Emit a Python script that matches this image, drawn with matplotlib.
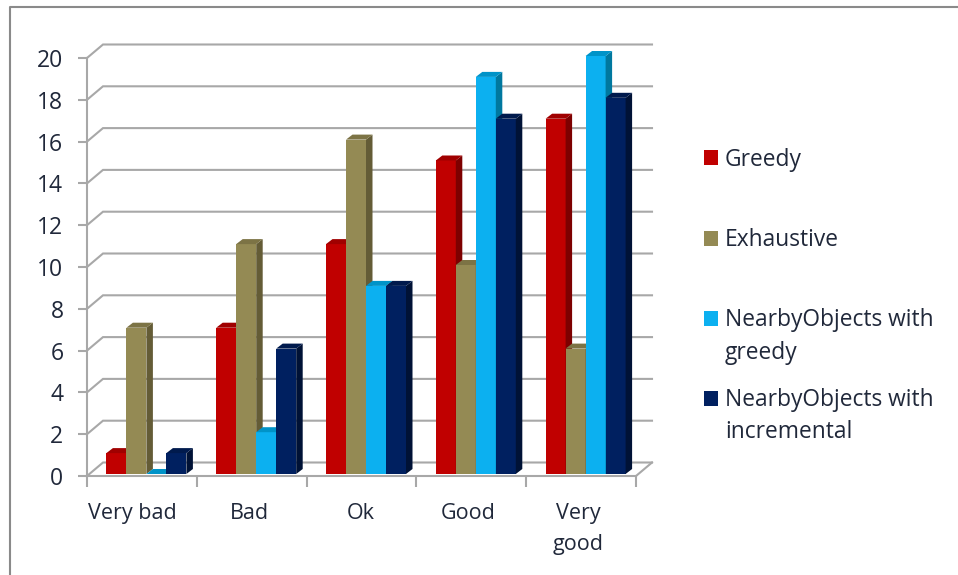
import matplotlib
matplotlib.use('Agg')
import matplotlib.pyplot as plt
from matplotlib.lines import Line2D
from matplotlib.patches import Polygon, Rectangle

categories = ['Very bad', 'Bad', 'Ok', 'Good', 'Very\ngood']
greedy = [1, 7, 11, 15, 17]
exhaustive = [7, 11, 16, 10, 6]
nearby_greedy = [0, 2, 9, 19, 20]
nearby_incremental = [1, 6, 9, 17, 18]

series_names = ['Greedy', 'Exhaustive', 'NearbyObjects with\ngreedy', 'NearbyObjects with\nincremental']
series_values = [greedy, exhaustive, nearby_greedy, nearby_incremental]
front_colors = ['#c00000', '#948a54', '#0cb0f0', '#002060']
side_colors = ['#7d0000', '#645c36', '#00789f', '#001236']
top_colors = ['#a00000', '#7c7345', '#0093c8', '#001a4d']

WIDTH, HEIGHT = 958, 575
FONT = 'Open Sans'
TEXT_COLOR = '#20283a'
GRID_COLOR = '#a8a8a8'

# pixels per data unit on each axis
X_SCALE = 549 / 5
Y_SCALE = 418 / 20

fig = plt.figure(figsize=(WIDTH / 100, HEIGHT / 100), dpi=100)
ax = fig.add_axes([87 / WIDTH, 1 - 476 / HEIGHT, 549 / WIDTH, 418 / HEIGHT])
ax.set_xlim(0, 5)
ax.set_ylim(0, 20)
ax.patch.set_visible(False)


def fig_xy(px, py):
    return px / WIDTH, 1 - py / HEIGHT


# wall depth
wall_x = 16 / X_SCALE
wall_y = 13.5 / Y_SCALE
for v in range(0, 21, 2):
    ax.plot([0, wall_x, 5 + wall_x], [v, v + wall_y, v + wall_y], color=GRID_COLOR,
            lw=1.5, clip_on=False, zorder=1, solid_joinstyle='miter')
ax.plot([5, 5 + wall_x], [0, wall_y], color=GRID_COLOR, lw=1.5, clip_on=False, zorder=1)

# 3D look: front face from ax.bar, then side and top faces from each bar
bar_w = 20 / X_SCALE
depth_x = 6.5 / X_SCALE
depth_y = 5 / Y_SCALE
shift_x = 4.5 / X_SCALE
shift_y = 2 / Y_SCALE
centers = [i + 0.5 for i in range(len(categories))]

for j, values in enumerate(series_values):
    xs = [c + shift_x + (j - 1.5) * bar_w for c in centers]
    bars = ax.bar(xs, values, width=bar_w, bottom=shift_y, color=front_colors[j],
                  linewidth=0, zorder=3, clip_on=False)
    for b in bars:
        x0, x1 = b.get_x(), b.get_x() + b.get_width()
        y0, y1 = b.get_y(), b.get_y() + b.get_height()
        ax.add_patch(Polygon([(x1, y0), (x1 + depth_x, y0 + depth_y), (x1 + depth_x, y1 + depth_y), (x1, y1)],
                             facecolor=side_colors[j], linewidth=0, zorder=3, clip_on=False))
        ax.add_patch(Polygon([(x0, y1), (x0 + depth_x, y1 + depth_y), (x1 + depth_x, y1 + depth_y), (x1, y1)],
                             facecolor=top_colors[j], linewidth=0, zorder=3, clip_on=False))

for name in ['top', 'right']:
    ax.spines[name].set_visible(False)
for name in ['left', 'bottom']:
    ax.spines[name].set_color(GRID_COLOR)
    ax.spines[name].set_linewidth(1.5)
    ax.spines[name].set_zorder(2)

ax.set_yticks(range(0, 21, 2))
ax.set_xticks(range(6))
ax.set_xticklabels([])
ax.tick_params(axis='y', length=6.5, width=1.5, color=GRID_COLOR, pad=10.5,
               labelsize=16.5, labelcolor=TEXT_COLOR)
ax.tick_params(axis='x', length=8, width=1.5, color=GRID_COLOR)
for label in ax.get_yticklabels():
    label.set_fontfamily(FONT)

# category labels sit a little off centre
label_nudge = [-10, -2, -1, -3, -3]
for c, name, nudge in zip(centers, categories, label_nudge):
    ax.annotate(name, xy=(c, 0), xytext=(nudge * 0.72, -19.5), textcoords='offset points',
                ha='center', va='top', fontsize=15.5, family=FONT, color=TEXT_COLOR,
                linespacing=1.65, annotation_clip=False)

# legend
legend_y = [157, 237.5, 317.5, 397]
square_y = [158, 238.5, 318.5, 398]
for name, color, y, sy in zip(series_names, front_colors, legend_y, square_y):
    x0, y0 = fig_xy(704, sy + 7.5)
    fig.add_artist(Rectangle((x0, y0), 14 / WIDTH, 15 / HEIGHT, facecolor=color, linewidth=0,
                             transform=fig.transFigure))
    tx, ty = fig_xy(725, y - 9)
    fig.text(tx, ty, name, ha='left', va='top', fontsize=16.4, family=FONT, color=TEXT_COLOR,
             linespacing=1.45)

# outer frame, left and top only
x0, y0 = fig_xy(10, HEIGHT)
x1, y1 = fig_xy(10, 7)
x2, y2 = fig_xy(WIDTH, 7)
fig.add_artist(Line2D([x0, x1, x2], [y0, y1, y2], color='#8a8a8a', lw=1.5, transform=fig.transFigure))

fig.savefig('out.png', dpi=100)
